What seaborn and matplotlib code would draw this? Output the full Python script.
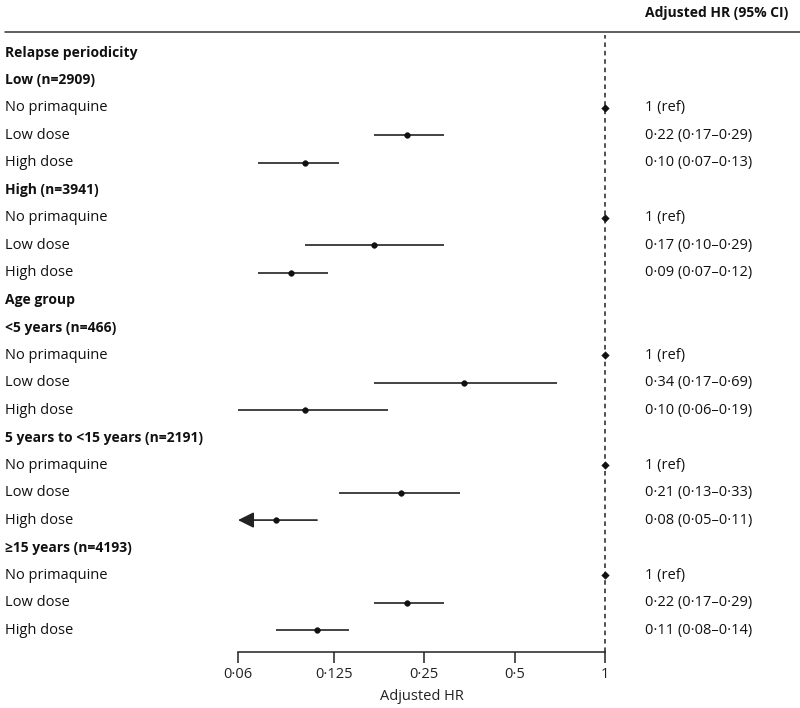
import seaborn as sns
import numpy as np
import pandas as pd
import matplotlib.pyplot as plt
from matplotlib import transforms

# rows: label, bold?, hr, lower, upper, text
labels = ["Relapse periodicity", "Low (n=2909)", "No primaquine", "Low dose", "High dose",
          "High (n=3941)", "No primaquine", "Low dose", "High dose",
          "Age group", "<5 years (n=466)", "No primaquine", "Low dose", "High dose",
          "5 years to <15 years (n=2191)", "No primaquine", "Low dose", "High dose",
          "≥15 years (n=4193)", "No primaquine", "Low dose", "High dose"]
bold_rows = [0, 1, 5, 9, 10, 14, 18]
hr = [None, None, 1, 0.22, 0.10,
      None, 1, 0.17, 0.09,
      None, None, 1, 0.34, 0.10,
      None, 1, 0.21, 0.08,
      None, 1, 0.22, 0.11]
ci_low = [None, None, None, 0.17, 0.07,
          None, None, 0.10, 0.07,
          None, None, None, 0.17, 0.06,
          None, None, 0.13, 0.05,
          None, None, 0.17, 0.08]
ci_high = [None, None, None, 0.29, 0.13,
           None, None, 0.29, 0.12,
           None, None, None, 0.69, 0.19,
           None, None, 0.33, 0.11,
           None, None, 0.29, 0.14]
hr_text = ["", "", "1 (ref)", "0·22 (0·17–0·29)", "0·10 (0·07–0·13)",
           "", "1 (ref)", "0·17 (0·10–0·29)", "0·09 (0·07–0·12)",
           "", "", "1 (ref)", "0·34 (0·17–0·69)", "0·10 (0·06–0·19)",
           "", "1 (ref)", "0·21 (0·13–0·33)", "0·08 (0·05–0·11)",
           "", "1 (ref)", "0·22 (0·17–0·29)", "0·11 (0·08–0·14)"]
x_ticks = [0.06, 0.125, 0.25, 0.5, 1]
x_ticklabels = ["0·06", "0·125", "0·25", "0·5", "1"]
x_min = 0.06

sns.set_theme(style="white")
plt.rcParams['font.family'] = ['Open Sans', 'DejaVu Sans']
fsize = 10.5
bsize = 10

df = pd.DataFrame({"row": range(len(labels)), "hr": hr, "lo": ci_low, "hi": ci_high})
df["is_ref"] = df["hr"].eq(1) & df["lo"].isna()
pts = df.dropna(subset=["hr"])

W, H = 800, 708
fig = plt.figure(figsize=(8, 7.08), dpi=100)
ax_l, ax_r = 238 / W, 605 / W
ax_top, ax_bot = 35 / H, 652 / H
ax = fig.add_axes([ax_l, 1 - ax_bot, ax_r - ax_l, ax_bot - ax_top])
ax.set_xscale("log", base=2)
ax.set_xlim(x_min, 1)
ax.set_ylim(21.8, -0.65)

# CI lines (arrow where the lower bound runs off the axis)
ci = df.dropna(subset=["lo"])
for _, r in ci.iterrows():
    if r["lo"] < x_min:
        ax.annotate("", xy=(x_min, r["row"]), xytext=(r["hi"], r["row"]),
                    arrowprops=dict(arrowstyle="-|>,head_length=0.8,head_width=0.4",
                                    color="#222222", lw=1.2, shrinkA=0, shrinkB=0))
    else:
        ax.hlines(r["row"], r["lo"], r["hi"], color="#222222", lw=1.2)

sns.scatterplot(data=pts[~pts["is_ref"]], x="hr", y="row", ax=ax, marker="o",
                s=17, color="#111111", edgecolor="#111111", zorder=3, legend=False)
sns.scatterplot(data=pts[pts["is_ref"]], x="hr", y="row", ax=ax, marker="D",
                s=15, color="#111111", edgecolor="#111111", zorder=3, legend=False,
                clip_on=False)

ax.axvline(1, color="#222222", lw=1.1, ls=(0, (3, 2.5)), zorder=1, clip_on=False)

for s in ["top", "left", "right"]:
    ax.spines[s].set_visible(False)
ax.spines["bottom"].set_color("#222222")
ax.spines["bottom"].set_linewidth(1.1)
ax.set_xticks(x_ticks)
ax.set_xticklabels(x_ticklabels, fontsize=fsize, color="#222222")
ax.minorticks_off()
ax.tick_params(axis="x", which="major", direction="out", length=8, width=1.1,
               color="#222222", bottom=True, pad=3)
ax.set_yticks([])
ax.set_xlabel("Adjusted HR", fontsize=fsize, color="#222222", labelpad=5)
ax.set_ylabel("")

# left labels and right text column
trans_l = transforms.blended_transform_factory(fig.transFigure, ax.transData)
for i, lab in enumerate(labels):
    is_bold = i in bold_rows
    ax.text(5 / W, i, lab, transform=trans_l, fontsize=bsize if is_bold else fsize,
            va="center", ha="left", fontweight="bold" if is_bold else "normal",
            color="#111111", clip_on=False)
    if hr_text[i]:
        ax.text(645 / W, i, hr_text[i], transform=trans_l, fontsize=fsize, va="center",
                ha="left", color="#111111", clip_on=False)

fig.text(645 / W, 1 - 13 / H, "Adjusted HR (95% CI)", fontsize=bsize, fontweight="bold",
         va="center", ha="left", color="#111111")
fig.add_artist(plt.Line2D([5 / W, 1.0], [1 - 32 / H, 1 - 32 / H], color="#333333", lw=1.1,
                          transform=fig.transFigure))

fig.savefig("out.png", dpi=100)
